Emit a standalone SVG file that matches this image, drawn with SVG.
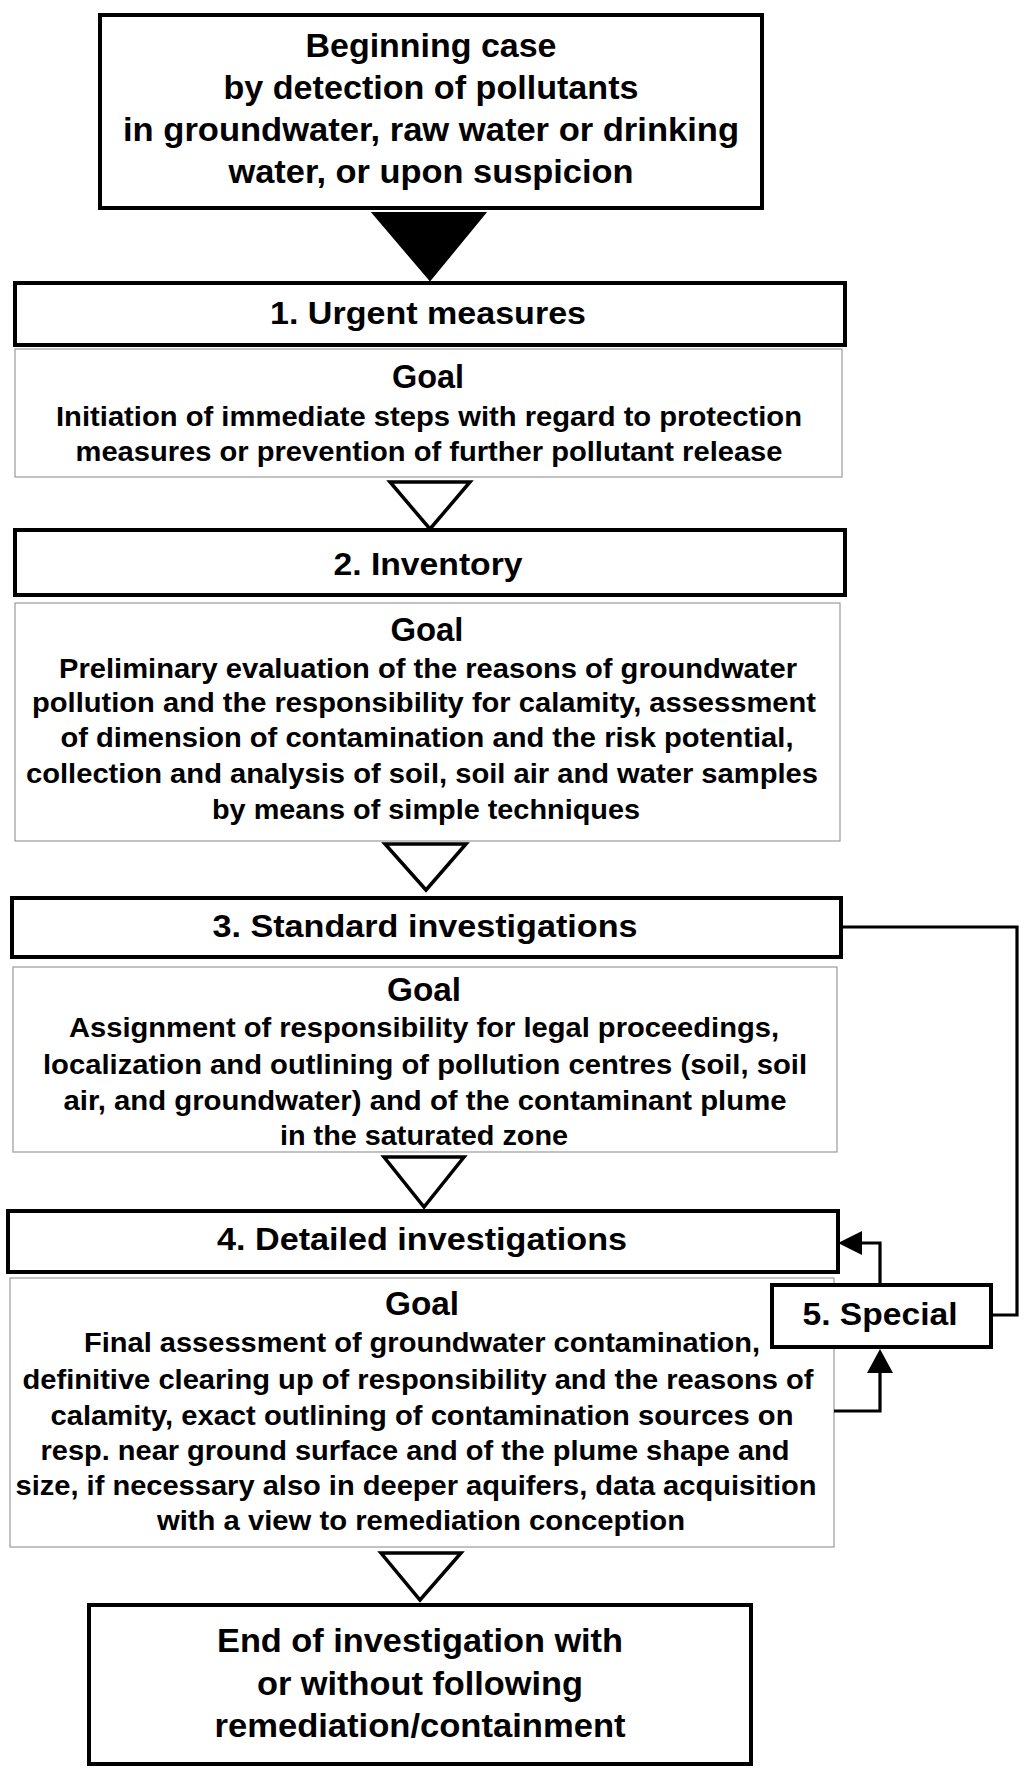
<svg xmlns="http://www.w3.org/2000/svg" width="1033" height="1777" viewBox="0 0 1033 1777">
<style>
.box{fill:#fff;stroke:#000;stroke-width:4}
.goal{fill:#fff;stroke:#9a9a9a;stroke-width:1.2}
.tri{fill:#fff;stroke:#000;stroke-width:3.5;stroke-linejoin:miter}
.t{font-family:"Liberation Sans",Arial,sans-serif;font-weight:bold;fill:#000;text-anchor:middle}
.big{font-size:33px}
.head{font-size:32px}
.gl{font-size:33px}
.body{font-size:28.5px}
.conn{fill:none;stroke:#000;stroke-width:3.2}
</style>
<rect width="1033" height="1777" fill="#fff"/>

<g id="start">
<rect class="box" x="100" y="15" width="662" height="193"/>
<text class="t big" x="431" y="57" textLength="251" lengthAdjust="spacingAndGlyphs">Beginning case</text>
<text class="t big" x="431" y="99" textLength="415" lengthAdjust="spacingAndGlyphs">by detection of pollutants</text>
<text class="t big" x="431" y="141" textLength="616" lengthAdjust="spacingAndGlyphs">in groundwater, raw water or drinking</text>
<text class="t big" x="431" y="183" textLength="405" lengthAdjust="spacingAndGlyphs">water, or upon suspicion</text>
</g>

<g id="step1">
<rect class="box" x="15" y="283" width="830" height="62"/>
<text class="t head" x="428" y="324" textLength="316" lengthAdjust="spacingAndGlyphs">1. Urgent measures</text>
</g>
<g id="goal1">
<rect class="goal" x="15" y="349" width="827" height="128"/>
<text class="t gl" x="428" y="388" textLength="72" lengthAdjust="spacingAndGlyphs">Goal</text>
<text class="t body" x="429" y="426" textLength="746" lengthAdjust="spacingAndGlyphs">Initiation of immediate steps with regard to protection</text>
<text class="t body" x="429" y="461" textLength="707" lengthAdjust="spacingAndGlyphs">measures or prevention of further pollutant release</text>
</g>

<g id="step2">
<rect class="box" x="15" y="530" width="830" height="65"/>
<text class="t head" x="428" y="575" textLength="189" lengthAdjust="spacingAndGlyphs">2. Inventory</text>
</g>
<g id="goal2">
<rect class="goal" x="15" y="603" width="825" height="238"/>
<text class="t gl" x="427" y="641" textLength="73" lengthAdjust="spacingAndGlyphs">Goal</text>
<text class="t body" x="428" y="678" textLength="738" lengthAdjust="spacingAndGlyphs">Preliminary evaluation of the reasons of groundwater</text>
<text class="t body" x="424" y="712" textLength="784" lengthAdjust="spacingAndGlyphs">pollution and the responsibility for calamity, assessment</text>
<text class="t body" x="427" y="747" textLength="733" lengthAdjust="spacingAndGlyphs">of dimension of contamination and the risk potential,</text>
<text class="t body" x="422" y="783" textLength="792" lengthAdjust="spacingAndGlyphs">collection and analysis of soil, soil air and water samples</text>
<text class="t body" x="426" y="819" textLength="428" lengthAdjust="spacingAndGlyphs">by means of simple techniques</text>
</g>

<g id="step3">
<rect class="box" x="12" y="898" width="829" height="59"/>
<text class="t head" x="425" y="937" textLength="425" lengthAdjust="spacingAndGlyphs">3. Standard investigations</text>
</g>
<g id="goal3">
<rect class="goal" x="13" y="967" width="824" height="185"/>
<text class="t gl" x="424" y="1001" textLength="74" lengthAdjust="spacingAndGlyphs">Goal</text>
<text class="t body" x="424" y="1037" textLength="710" lengthAdjust="spacingAndGlyphs">Assignment of responsibility for legal proceedings,</text>
<text class="t body" x="425" y="1074" textLength="764" lengthAdjust="spacingAndGlyphs">localization and outlining of pollution centres (soil, soil</text>
<text class="t body" x="425" y="1110" textLength="723" lengthAdjust="spacingAndGlyphs">air, and groundwater) and of the contaminant plume</text>
<text class="t body" x="424" y="1145" textLength="288" lengthAdjust="spacingAndGlyphs">in the saturated zone</text>
</g>

<g id="step4">
<rect class="box" x="8" y="1211" width="830" height="61"/>
<text class="t head" x="422" y="1250" textLength="410" lengthAdjust="spacingAndGlyphs">4. Detailed investigations</text>
</g>
<g id="goal4">
<rect class="goal" x="10" y="1278" width="824" height="269"/>
<text class="t gl" x="422" y="1315" textLength="74" lengthAdjust="spacingAndGlyphs">Goal</text>
<text class="t body" x="422" y="1352" textLength="676" lengthAdjust="spacingAndGlyphs">Final assessment of groundwater contamination,</text>
<text class="t body" x="418" y="1389" textLength="791" lengthAdjust="spacingAndGlyphs">definitive clearing up of responsibility and the reasons of</text>
<text class="t body" x="422" y="1425" textLength="743" lengthAdjust="spacingAndGlyphs">calamity, exact outlining of contamination sources on</text>
<text class="t body" x="415" y="1460" textLength="749" lengthAdjust="spacingAndGlyphs">resp. near ground surface and of the plume shape and</text>
<text class="t body" x="416" y="1495" textLength="801" lengthAdjust="spacingAndGlyphs">size, if necessary also in deeper aquifers, data acquisition</text>
<text class="t body" x="421" y="1530" textLength="528" lengthAdjust="spacingAndGlyphs">with a view to remediation conception</text>
</g>

<g id="step5">
<rect class="box" x="772" y="1285" width="219" height="62"/>
<text class="t head" x="880" y="1325" textLength="155" lengthAdjust="spacingAndGlyphs">5. Special</text>
</g>

<g id="end">
<rect class="box" x="89" y="1605" width="662" height="159"/>
<text class="t big" x="420" y="1652" textLength="406" lengthAdjust="spacingAndGlyphs">End of investigation with</text>
<text class="t big" x="420" y="1695" textLength="326" lengthAdjust="spacingAndGlyphs">or without following</text>
<text class="t big" x="420" y="1737" textLength="411" lengthAdjust="spacingAndGlyphs">remediation/containment</text>
</g>

<g id="connectors">
<polygon points="373,213 485,213 430,280" fill="#000" stroke="#000" stroke-width="2"/>
<polygon class="tri" points="390,482 470,482 430,529"/>
<polygon class="tri" points="385,844 466,844 426,890"/>
<polygon class="tri" points="384,1157 464,1157 424,1207"/>
<polygon class="tri" points="381,1553 461,1553 420,1600"/>
<path class="conn" d="M841,927 H1017 V1315 H991"/>
<path class="conn" d="M880,1285 V1243 H860"/>
<polygon points="838,1243 862,1231 862,1255" fill="#000"/>
<path class="conn" d="M834,1411 H880 V1371"/>
<polygon points="880,1349 867,1373 893,1373" fill="#000"/>
</g>
</svg>
